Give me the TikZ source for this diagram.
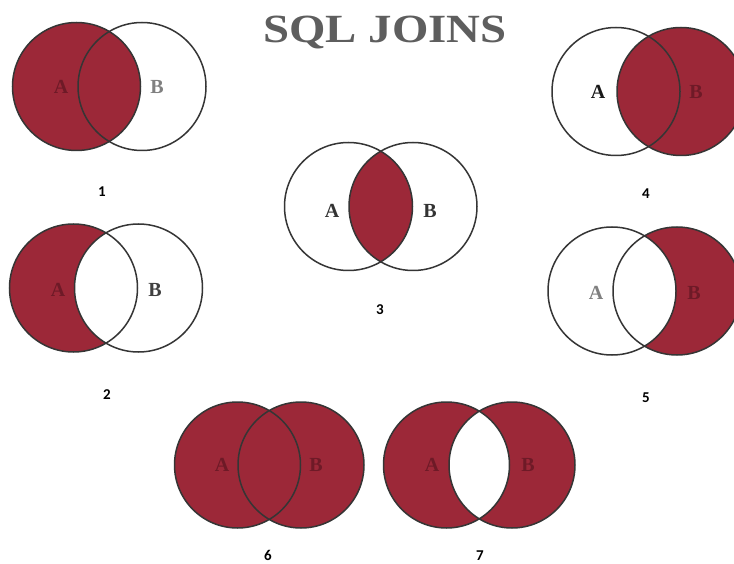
\documentclass[tikz,border=0pt]{standalone}
\usepackage{fontspec}
\setmainfont{Liberation Serif}
\newfontfamily\numfont{Carlito}
\definecolor{joinred}{HTML}{9C2838}
\definecolor{edge}{HTML}{353535}
\definecolor{onred}{HTML}{6E1A27}
\definecolor{ttl}{HTML}{5E5E5E}
\tikzset{
  ring/.style={circle, draw=edge, line width=1.5pt, minimum size=128pt, inner sep=0pt},
  lbl/.style={font=\bfseries\fontsize{20}{20}\selectfont, inner sep=0pt},
  num/.style={font=\numfont\bfseries\fontsize{15}{15}\selectfont, inner sep=0pt}
}
\newcommand{\rr}{64}
\begin{document}
\begin{tikzpicture}[x=1pt,y=-1pt]
\useasboundingbox (0,0) rectangle (734,564);
\fill[white] (0,0) rectangle (734,564);

% title
\node[font=\bfseries\fontsize{40}{40}\selectfont, text=ttl, inner sep=0pt] (title) at (385,33) {\scalebox{1.17}[1]{SQL JOINS}};

% ---------- 1 ----------
\fill[joinred] (76.5,86.5) circle (\rr);
\node[ring] (a1) at (76.5,86.5) {};
\node[ring] (b1) at (142,86.5) {};
\node[lbl, text=onred] (la1) at (61,87) {A};
\node[lbl, text=gray] (lb1) at (157,87) {B};
\node[num] (n1) at (102,192) {1};

% ---------- 2 ----------
\fill[joinred] (73.5,288) circle (\rr);
\begin{scope}
  \clip (73.5,288) circle (\rr);
  \fill[white] (138.5,288) circle (\rr);
\end{scope}
\node[ring] (a2) at (73.5,288) {};
\node[ring] (b2) at (138.5,288) {};
\node[lbl, text=onred] (la2) at (58,290) {A};
\node[lbl, text=black!75] (lb2) at (155,290) {B};
\node[num] (n2) at (107,395) {2};

% ---------- 3 ----------
\begin{scope}
  \clip (348.5,206.5) circle (\rr);
  \fill[joinred] (413,206.5) circle (\rr);
\end{scope}
\node[ring] (a3) at (348.5,206.5) {};
\node[ring] (b3) at (413,206.5) {};
\node[lbl, text=black!80] (la3) at (332,211) {A};
\node[lbl, text=black!80] (lb3) at (430,211) {B};
\node[num] (n3) at (380,310) {3};

% ---------- 4 ----------
\fill[joinred] (681,91.5) circle (\rr);
\node[ring] (a4) at (616,91.5) {};
\node[ring] (b4) at (681,91.5) {};
\node[lbl, text=black!90] (la4) at (598,92) {A};
\node[lbl, text=onred] (lb4) at (696,92) {B};
\node[num] (n4) at (646,194) {4};

% ---------- 5 ----------
\fill[joinred] (677,291) circle (\rr);
\begin{scope}
  \clip (677,291) circle (\rr);
  \fill[white] (612,291) circle (\rr);
\end{scope}
\node[ring] (a5) at (612,291) {};
\node[ring] (b5) at (677,291) {};
\node[lbl, text=gray] (la5) at (596,293) {A};
\node[lbl, text=onred] (lb5) at (694,293) {B};
\node[num] (n5) at (646,398) {5};

% ---------- 6 ----------
\fill[joinred] (237.5,465) circle (63);
\fill[joinred] (301,465) circle (63);
\node[ring, minimum size=126pt] (a6) at (237.5,465) {};
\node[ring, minimum size=126pt] (b6) at (301,465) {};
\node[lbl, text=onred] (la6) at (222,465) {A};
\node[lbl, text=onred] (lb6) at (316,465) {B};
\node[num] (n6) at (268,555) {6};

% ---------- 7 ----------
\fill[joinred] (446.5,465) circle (63);
\fill[joinred] (512,465) circle (63);
\begin{scope}
  \clip (446.5,465) circle (63);
  \fill[white] (512,465) circle (63);
\end{scope}
\node[ring, minimum size=126pt] (a7) at (446.5,465) {};
\node[ring, minimum size=126pt] (b7) at (512,465) {};
\node[lbl, text=onred] (la7) at (432,465) {A};
\node[lbl, text=onred] (lb7) at (528,465) {B};
\node[num] (n7) at (480,556) {7};
\end{tikzpicture}
\end{document}
